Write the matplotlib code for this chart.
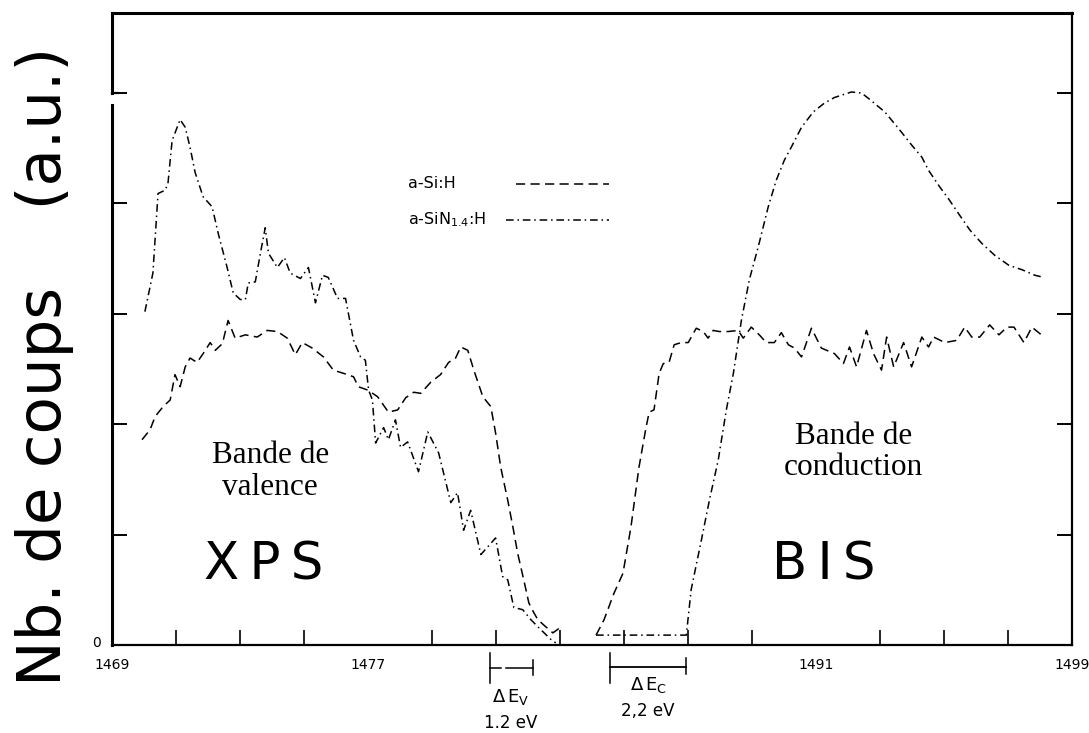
import matplotlib
matplotlib.use("Agg")
import matplotlib.pyplot as plt

# a-Si:H (dashed) - XPS valence band
sih_val_x = [1469.94, 1470.19, 1470.35, 1470.60, 1470.82, 1470.97, 1471.13, 1471.29, 1471.44, 1471.66,
             1471.85, 1472.07, 1472.23, 1472.45, 1472.63, 1472.85, 1473.17, 1473.54, 1473.85, 1474.17,
             1474.48, 1474.73, 1474.95, 1475.26, 1475.61, 1475.92, 1476.36, 1476.55, 1476.70, 1476.99,
             1477.30, 1477.64, 1477.93, 1478.18, 1478.43, 1478.65, 1478.96, 1479.27, 1479.52, 1479.74,
             1479.90, 1480.12, 1480.31, 1480.59, 1480.84, 1480.99, 1481.15, 1481.37, 1481.53, 1481.68,
             1481.87, 1482.03, 1482.19, 1482.31, 1482.50, 1482.78, 1482.97]
sih_val_y = [1.86, 1.95, 2.07, 2.16, 2.22, 2.45, 2.34, 2.52, 2.60, 2.56,
             2.64, 2.74, 2.67, 2.73, 2.94, 2.78, 2.81, 2.79, 2.85, 2.84,
             2.78, 2.63, 2.74, 2.69, 2.61, 2.49, 2.45, 2.43, 2.34, 2.31,
             2.25, 2.11, 2.13, 2.24, 2.29, 2.28, 2.38, 2.45, 2.56, 2.60,
             2.70, 2.67, 2.49, 2.25, 2.16, 1.92, 1.61, 1.31, 1.07, 0.83,
             0.59, 0.38, 0.29, 0.23, 0.18, 0.11, 0.15]

# a-SiN1.4:H (dash-dot) - XPS valence band
sin_val_x = [1470.03, 1470.28, 1470.44, 1470.66, 1470.75, 1470.88, 1471.13, 1471.29, 1471.44, 1471.60,
             1471.85, 1472.13, 1472.32, 1472.60, 1472.79, 1473.01, 1473.17, 1473.26, 1473.48, 1473.64,
             1473.79, 1473.89, 1474.17, 1474.39, 1474.57, 1474.89, 1475.14, 1475.36, 1475.58, 1475.76,
             1476.05, 1476.30, 1476.55, 1476.77, 1476.92, 1477.02, 1477.14, 1477.24, 1477.49, 1477.64,
             1477.86, 1478.02, 1478.24, 1478.58, 1478.87, 1479.21, 1479.59, 1479.80, 1479.99, 1480.21,
             1480.53, 1480.99, 1481.21, 1481.37, 1481.56, 1481.84, 1482.09, 1482.40, 1482.72, 1482.87]
sin_val_y = [3.02, 3.37, 4.09, 4.12, 4.18, 4.57, 4.76, 4.69, 4.51, 4.28,
             4.06, 3.97, 3.73, 3.42, 3.19, 3.13, 3.13, 3.28, 3.29, 3.55,
             3.78, 3.55, 3.42, 3.51, 3.37, 3.32, 3.42, 3.10, 3.35, 3.33,
             3.14, 3.14, 2.76, 2.61, 2.58, 2.31, 2.22, 1.83, 1.97, 1.86,
             2.04, 1.79, 1.84, 1.57, 1.93, 1.74, 1.29, 1.38, 1.04, 1.22,
             0.82, 0.97, 0.62, 0.59, 0.34, 0.32, 0.23, 0.14, 0.05, 0.02]

# a-Si:H (dashed) - BIS conduction band
sih_cond_x = [1484.13, 1484.38, 1484.69, 1484.97, 1485.22, 1485.47, 1485.69, 1485.79, 1485.94, 1486.10,
              1486.23, 1486.41, 1486.57, 1486.79, 1487.01, 1487.26, 1487.48, 1487.63, 1487.79, 1487.98,
              1488.26, 1488.57, 1488.73, 1488.98, 1489.23, 1489.45, 1489.70, 1489.92, 1490.14, 1490.33,
              1490.55, 1490.86, 1491.17, 1491.58, 1491.86, 1492.05, 1492.27, 1492.58, 1492.80, 1493.05,
              1493.21, 1493.43, 1493.74, 1493.99, 1494.31, 1494.52, 1494.68, 1495.03, 1495.40, 1495.65,
              1495.87, 1496.12, 1496.43, 1496.72, 1496.97, 1497.19, 1497.50, 1497.75, 1498.13]
sih_cond_y = [0.09, 0.23, 0.47, 0.65, 1.07, 1.61, 1.97, 2.11, 2.13, 2.46,
              2.55, 2.56, 2.72, 2.74, 2.74, 2.87, 2.84, 2.78, 2.85, 2.84,
              2.84, 2.85, 2.78, 2.88, 2.81, 2.74, 2.74, 2.83, 2.72, 2.69,
              2.61, 2.87, 2.69, 2.64, 2.55, 2.70, 2.52, 2.85, 2.64, 2.49,
              2.79, 2.52, 2.74, 2.52, 2.79, 2.70, 2.79, 2.74, 2.76, 2.88,
              2.79, 2.79, 2.90, 2.81, 2.88, 2.88, 2.74, 2.88, 2.79]

# a-SiN1.4:H (dash-dot) - BIS conduction band
sin_cond_x = [1484.13, 1486.95, 1487.10, 1487.42, 1487.67, 1487.95, 1488.20, 1488.42, 1488.67, 1488.92,
              1489.20, 1489.51, 1489.76, 1490.01, 1490.23, 1490.55, 1490.92, 1491.27, 1491.58, 1492.11,
              1492.43, 1492.65, 1493.15, 1493.58, 1493.99, 1494.31, 1494.52, 1494.87, 1495.15, 1495.50,
              1495.81, 1496.18, 1496.59, 1497.03, 1497.44, 1497.84, 1498.13]
sin_cond_y = [0.09, 0.09, 0.50, 0.95, 1.31, 1.68, 2.13, 2.46, 2.94, 3.31,
              3.61, 3.97, 4.21, 4.39, 4.51, 4.69, 4.83, 4.91, 4.96, 5.01,
              5.00, 4.95, 4.83, 4.68, 4.53, 4.42, 4.30, 4.15, 4.04, 3.89,
              3.76, 3.64, 3.53, 3.44, 3.40, 3.35, 3.33]

xtick_vals = [1469, 1477, 1491, 1499]
xtick_labels = ["1469", "1477", "1491", "1499"]
minor_ticks = list(range(1471, 1499, 2))
ytick_vals = [1, 2, 3, 4, 5]

dashed = (0, (6, 3.5))
dashdot = (0, (5, 2.5, 1, 2.5))
thin = "\u2009"

fig = plt.figure(figsize=(10.89, 7.33), dpi=100)
ax = fig.add_axes([0.1028, 0.12, 0.8815, 0.8622])

ax.plot(sih_val_x, sih_val_y, color="black", lw=1.1, linestyle=dashed)
ax.plot(sin_val_x, sin_val_y, color="black", lw=1.1, linestyle=dashdot)
ax.plot(sih_cond_x, sih_cond_y, color="black", lw=1.1, linestyle=dashed)
ax.plot(sin_cond_x, sin_cond_y, color="black", lw=1.1, linestyle=dashdot)

ax.set_xlim(1469, 1499)
ax.set_ylim(0, 5.725)

# axis frame: thick top/left, thinner bottom/right, gap in left spine near the top
for s in ["top", "left"]:
    ax.spines[s].set_linewidth(2.2)
for s in ["bottom", "right"]:
    ax.spines[s].set_linewidth(1.6)
ax.spines["left"].set_bounds(0, 4.89)
ax.plot([1469, 1469], [5.0, 5.725], color="black", lw=2.2, clip_on=False)
ax.plot([1469, 1469.2], [5.0, 5.0], color="black", lw=1.6, clip_on=False)

ax.set_xticks(xtick_vals)
ax.set_xticklabels(xtick_labels, fontsize=10, family="DejaVu Sans")
ax.tick_params(axis="x", which="major", length=0, pad=9)
ax.set_xticks(minor_ticks, minor=True)
ax.tick_params(axis="x", which="minor", direction="in", length=11, width=1.2)

ax.set_yticks(ytick_vals)
ax.set_yticklabels([])
ax.tick_params(axis="y", direction="in", length=11, width=1.4, left=True, right=True)
ax.text(1468.65, 0.02, "0", ha="right", va="center", fontsize=10, family="DejaVu Sans")

# legend drawn by hand as in the original figure
ax.text(1478.24, 4.18, "a-Si:H", fontsize=11.5, va="center", family="DejaVu Sans")
ax.plot([1481.62, 1484.53], [4.18, 4.18], color="black", lw=1.1, linestyle=dashed)
ax.text(1478.24, 3.85, "a-SiN$_{1.4}$:H", fontsize=11.5, va="center", family="DejaVu Sans")
ax.plot([1481.3, 1484.53], [3.85, 3.85], color="black", lw=1.1, linestyle=dashdot)

ax.text(1473.75, 0.72, thin.join("XPS"), fontsize=37, ha="center", va="center", family="DejaVu Sans")
ax.text(1491.25, 0.72, thin.join("BIS"), fontsize=37, ha="center", va="center", family="DejaVu Sans")
ax.text(1473.95, 1.57, "Bande de\nvalence", fontsize=22.5, ha="center", va="center",
        family="Liberation Serif", linespacing=1.12)
ax.text(1492.18, 1.75, "Bande de\nconduction", fontsize=22.5, ha="center", va="center",
        family="Liberation Serif", linespacing=1.12)

# band offset brackets below the axis
ax.plot([1480.8, 1480.8], [-0.07, -0.34], color="black", lw=1.1, clip_on=False)
ax.plot([1480.8, 1481.15], [-0.21, -0.21], color="black", lw=1.1, clip_on=False)
ax.plot([1481.3, 1482.15], [-0.21, -0.21], color="black", lw=1.1, clip_on=False)
ax.plot([1482.15, 1482.15], [-0.14, -0.27], color="black", lw=1.1, clip_on=False)
ax.text(1481.47, -0.47, r"$\Delta\,$E$_{\mathrm{V}}$", fontsize=13, ha="center", va="center")
ax.text(1481.47, -0.71, "1.2 eV", fontsize=12, ha="center", va="center", family="DejaVu Sans")

ax.plot([1484.55, 1484.55], [-0.07, -0.34], color="black", lw=1.1, clip_on=False)
ax.plot([1484.55, 1486.95], [-0.20, -0.20], color="black", lw=1.3, clip_on=False)
ax.plot([1486.95, 1486.95], [-0.12, -0.26], color="black", lw=1.1, clip_on=False)
ax.text(1485.76, -0.36, r"$\Delta\,$E$_{\mathrm{C}}$", fontsize=13, ha="center", va="center")
ax.text(1485.76, -0.60, "2,2 eV", fontsize=12, ha="center", va="center", family="DejaVu Sans")

fig.text(0.041, 0.50, "Nb. de coups    (a.u.)", rotation=90, fontsize=44, ha="center", va="center",
         family="DejaVu Sans")

fig.savefig("out.png", dpi=100)
